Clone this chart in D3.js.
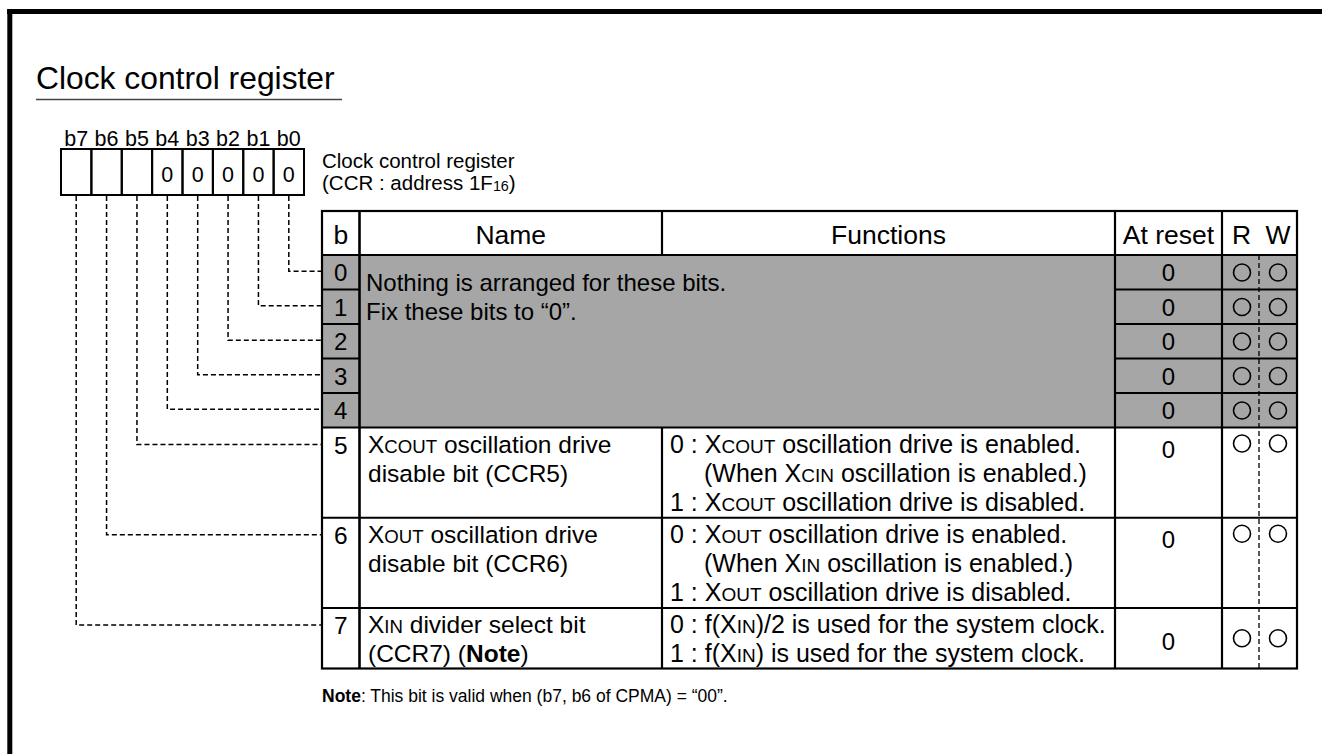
<!DOCTYPE html>
<html><head><meta charset="utf-8">
<script src="https://cdn.jsdelivr.net/npm/d3@7"></script>
<style>body{margin:0;background:#fff}svg{display:block}</style>
</head><body><svg id="c" width="1322" height="754"></svg>
<script>
// ---------------- data ----------------
const title = "Clock control register";
const bitLabels = ["b7","b6","b5","b4","b3","b2","b1","b0"];
const bitInitial = ["","","","0","0","0","0","0"];
const registerCaption = ["Clock control register", "(CCR : address 1F[16])"];
const headers = ["b","Name","Functions","At reset","R","W"];
const rowBits = [0,1,2,3,4,5,6,7];
const reservedBits = [0,1,2,3,4];
const reservedText = ["Nothing is arranged for these bits.", "Fix these bits to \u201c0\u201d."];
const rowNames = [
  ["X{COUT} oscillation drive", "disable bit (CCR5)"],
  ["X{OUT} oscillation drive", "disable bit (CCR6)"],
  ["X{IN} divider select bit", "(CCR7) (*Note*)"]
];
const rowFunctions = [
  ["0 : X{COUT} oscillation drive is enabled.", "(When X{CIN} oscillation is enabled.)", "1 : X{COUT} oscillation drive is disabled."],
  ["0 : X{OUT} oscillation drive is enabled.", "(When X{IN} oscillation is enabled.)", "1 : X{OUT} oscillation drive is disabled."],
  ["0 : f(X{IN})/2 is used for the system clock.", "1 : f(X{IN}) is used for the system clock."]
];
const resetValues = ["0","0","0","0","0","0","0","0"];
const readable = [true,true,true,true,true,true,true,true];
const writable = [true,true,true,true,true,true,true,true];
const noteText = "*Note*: This bit is valid when (b7, b6 of CPMA) = \u201c00\u201d.";

// ---------------- drawing ----------------
const svg = d3.select("#c");
const FONT = "'Liberation Sans', Arial, Helvetica, sans-serif";
const GRAY = "#a6a6a6";

function rich(sel, str, size) {
  const re = /(\{[^}]*\}|\*[^*]*\*|\[[^\]]*\])/g;
  str.split(re).filter(s => s.length).forEach(tok => {
    let t = tok, fs = size, fw = null, shift = null;
    if (tok[0] === '{') { t = tok.slice(1, -1); fs = size * 0.76; }
    else if (tok[0] === '*') { t = tok.slice(1, -1); fw = 'bold'; }
    else if (tok[0] === '[') { t = tok.slice(1, -1); fs = size * 0.7; shift = -1; }
    const ts = sel.append('tspan').text(t).attr('font-size', fs);
    if (fw) ts.attr('font-weight', fw);
    if (shift) ts.attr('baseline-shift', shift);
  });
}
function txt(x, y, str, size, anchor) {
  const t = svg.append('text').attr('x', x).attr('y', y)
    .attr('font-family', FONT).attr('font-size', size).attr('fill', '#000')
    .attr('xml:space', 'preserve');
  if (anchor) t.attr('text-anchor', anchor);
  rich(t, str, size);
  return t;
}
function line(x1, y1, x2, y2, w, dash, col) {
  const l = svg.append('line').attr('x1', x1).attr('y1', y1).attr('x2', x2).attr('y2', y2)
    .attr('stroke', col || '#000').attr('stroke-width', w);
  if (dash) l.attr('stroke-dasharray', dash);
  return l;
}

// frame
line(7, 11.5, 1322, 11.5, 5);
line(9.8, 9, 9.8, 754, 5);

// title
txt(36, 89, title, 31.8);
line(36, 99.5, 342, 99.5, 1.5, null, '#444');

// register boxes
const xBit = d3.scaleBand().domain(bitLabels).range([61, 304]);
const boxTop = 149, boxBot = 195;
bitLabels.forEach((b, i) => {
  const cx = xBit(b) + xBit.bandwidth() / 2;
  txt(cx, 146, b, 21.5, 'middle');
  if (bitInitial[i]) txt(cx, 181.5, bitInitial[i], 21.5, 'middle');
});
svg.append('g').selectAll('rect').data(bitLabels).join('rect')
  .attr('x', d => xBit(d)).attr('y', boxTop)
  .attr('width', xBit.bandwidth()).attr('height', boxBot - boxTop)
  .attr('fill', 'none').attr('stroke', '#000').attr('stroke-width', 2);

txt(322, 168, registerCaption[0], 20.5);
txt(322, 190, registerCaption[1], 20.5);

// table geometry
const colX = {left: 322, b: 359.5, name: 662, func: 1115, reset: 1222, rw: 1259, right: 1297};
const tTop = 211, hBot = 255;
const rowLines = rowBits.map(b => b < 5 ? 1 : rowFunctions[b - 5].length);
const rowH = rowBits.map((b, i) => b < 5 ? 34.5 : 29.75 * rowLines[i] + 1);
const rowTop = rowBits.map((b, i) => hBot + d3.sum(rowH.slice(0, i)));
const tBot = rowTop[7] + rowH[7];
const grayBot = rowTop[5];

// gray block
svg.append('rect').attr('x', colX.left).attr('y', hBot)
  .attr('width', colX.right - colX.left).attr('height', grayBot - hBot).attr('fill', GRAY);

// header
const hb = 244, HS = 26.5;
txt((colX.left + colX.b) / 2, hb, headers[0], HS, 'middle');
txt((colX.b + colX.name) / 2, hb, headers[1], HS, 'middle');
txt((colX.name + colX.func) / 2, hb, headers[2], HS, 'middle');
txt((colX.func + colX.reset) / 2, hb, headers[3], HS, 'middle');
txt((colX.reset + colX.rw) / 2 + 1, hb, headers[4], HS, 'middle');
txt((colX.rw + colX.right) / 2, hb, headers[5], HS, 'middle');

// reserved text
txt(366, 291, reservedText[0], 24);
txt(366, 320, reservedText[1], 24);

// rows
const FS = 24.5, FF = 25;
rowBits.forEach((b, i) => {
  const top = rowTop[i], h = rowH[i];
  const cxB = (colX.left + colX.b) / 2;
  const cxR = (colX.func + colX.reset) / 2;
  const cR = (colX.reset + colX.rw) / 2 + 1.5, cW = (colX.rw + colX.right) / 2;
  let resetY, circY;
  if (b < 5) {
    txt(cxB, top + 26, String(b), 24, 'middle');
    resetY = top + 26; circY = top + 17.5;
  } else {
    const k = b - 5;
    txt(cxB, top + 26, String(b), FS, 'middle');
    rowNames[k].forEach((s, j) => txt(368, top + 25 + j * 29, s, FS));
    rowFunctions[k].forEach((s, j) => {
      const indent = s[0] === '(' ? 34 : 0;
      txt(670 + indent, top + 25 + j * 29, s, FF);
    });
    if (rowLines[i] >= 3) { resetY = top + 30; circY = top + 16; }
    else { resetY = top + h / 2 + 12; circY = top + h / 2; }
  }
  txt(cxR, resetY, resetValues[b], 24, 'middle');
  if (readable[b]) svg.append('circle').attr('cx', cR).attr('cy', circY).attr('r', 8.5)
    .attr('fill', 'none').attr('stroke', '#000').attr('stroke-width', 1.6);
  if (writable[b]) svg.append('circle').attr('cx', cW).attr('cy', circY).attr('r', 8.5)
    .attr('fill', 'none').attr('stroke', '#000').attr('stroke-width', 1.6);
});

// table lines
line(colX.rw, hBot, colX.rw, tBot, 1.3, '5,3');
svg.append('rect').attr('x', colX.left).attr('y', tTop)
  .attr('width', colX.right - colX.left).attr('height', tBot - tTop)
  .attr('fill', 'none').attr('stroke', '#000').attr('stroke-width', 2.2);
line(colX.left, hBot, colX.right, hBot, 2.2);
line(colX.b, tTop, colX.b, tBot, 2.6);
line(colX.name, tTop, colX.name, hBot, 2.2);
line(colX.name, grayBot, colX.name, tBot, 2.2);
line(colX.func, tTop, colX.func, tBot, 2.2);
line(colX.reset, tTop, colX.reset, tBot, 2.2);
rowBits.forEach((b, i) => {
  if (i === 7) return;
  const y = rowTop[i] + rowH[i];
  if (b < 4) {
    line(colX.left, y, colX.b, y, 2.2);
    line(colX.func, y, colX.right, y, 2.2);
  } else {
    line(colX.left, y, colX.right, y, 2.2);
  }
});

// leader lines
bitLabels.forEach((lbl, i) => {
  const b = +lbl.slice(1);
  const idx = rowBits.indexOf(b);
  const cx = xBit(lbl) + xBit.bandwidth() / 2;
  const y = b < 5 ? rowTop[idx] + rowH[idx] / 2 - 1 : rowTop[idx] + 17;
  svg.append('path').attr('d', `M${cx},${boxBot + 1}V${y}H${colX.left - 1}`)
    .attr('fill', 'none').attr('stroke', '#000').attr('stroke-width', 1.5)
    .attr('stroke-dasharray', '5,3');
});

// note
txt(322, 702, noteText, 17.5);
</script></body></html>
